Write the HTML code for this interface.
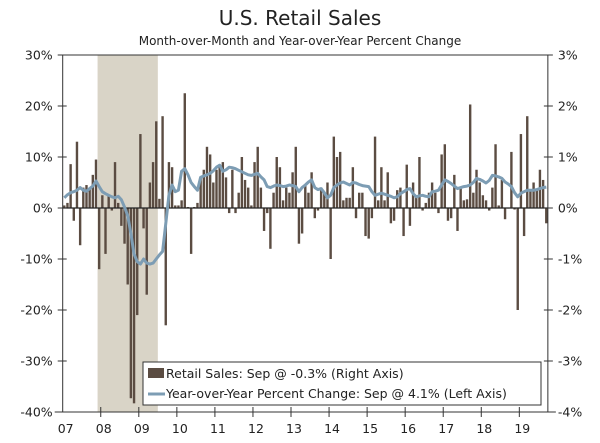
<!DOCTYPE html>
<html><head><meta charset="utf-8">
<style>
html,body{margin:0;padding:0;background:#fff;}
svg{display:block;font-family:"DejaVu Sans","Liberation Sans",sans-serif;}
</style></head>
<body>
<svg id="chart" width="600" height="443" viewBox="0 0 600 443" xmlns="http://www.w3.org/2000/svg">
<text x="300" y="25" text-anchor="middle" font-size="20" fill="#222">U.S. Retail Sales</text>
<text x="300" y="45" text-anchor="middle" font-size="12" fill="#222">Month-over-Month and Year-over-Year Percent Change</text>
<g id="plot"></g>
</svg>
<script>
const startYear = 2007;
const recessionStart = 11; // month index Dec 2007
const recessionEnd = 30;   // end of Jun 2009 (exclusive)
const leftTicks = ["30%","20%","10%","0%","-10%","-20%","-30%","-40%"];
const leftTickValues = [30,20,10,0,-10,-20,-30,-40];
const rightTicks = ["3%","2%","1%","0%","-1%","-2%","-3%","-4%"];
const yearLabels = ["07","08","09","10","11","12","13","14","15","16","17","18","19"];
const retailMoM = [
0.05,0.1,0.86,-0.25,1.3,-0.73,0.4,0.45,0.4,0.65,0.95,-1.2,
0.25,-0.9,0.25,-0.05,0.9,0.1,-0.35,-0.7,-1.5,-3.73,-3.83,-2.1,
1.45,-0.4,-1.7,0.5,0.9,1.7,0.18,1.8,-2.3,0.9,0.8,0.05,
0.05,0.15,2.25,0.02,-0.9,0.02,0.1,0.6,0.75,1.2,1.05,0.5,
0.75,0.85,0.9,0.6,-0.1,0.75,-0.1,0.3,1.0,0.55,0.4,0.05,
0.9,1.2,0.4,-0.45,-0.1,-0.8,0.3,1.0,0.8,0.15,0.4,0.3,
0.7,1.2,-0.7,-0.5,0.45,0.3,0.7,-0.2,-0.05,0.4,0.3,0.5,
-1.0,1.4,1.0,1.1,0.15,0.2,0.2,0.8,-0.2,0.3,0.3,-0.55,
-0.6,-0.2,1.4,0.15,0.8,0.15,0.7,-0.3,-0.25,0.35,0.4,-0.55,
0.85,-0.35,0.5,0.25,1.0,-0.05,0.1,0.3,0.5,0.3,-0.1,1.05,
1.25,-0.25,-0.2,0.65,-0.45,0.4,0.15,0.17,2.03,0.3,0.75,0.5,
0.25,0.15,-0.05,0.4,1.25,0.05,0.55,-0.22,0.0,1.1,-0.03,-2.0,
1.45,-0.55,1.8,0.35,0.5,0.35,0.75,0.55,-0.3];
const yoyChange = [
2.0,2.6,3.0,3.2,3.5,4.0,3.5,3.3,3.8,4.3,5.3,4.2,
3.2,2.8,2.5,2.2,2.0,2.3,1.6,0.2,-1.5,-5.0,-9.0,-10.5,
-11.0,-10.0,-10.8,-11.0,-10.8,-10.0,-9.2,-8.5,-3.0,2.5,4.5,3.2,
3.5,7.2,7.7,6.5,5.0,4.2,3.5,6.0,6.3,6.5,6.8,7.3,
8.0,8.4,7.2,7.5,8.0,7.9,7.7,7.4,7.1,6.8,6.5,6.4,
6.6,6.8,6.1,5.5,4.2,4.0,4.3,4.5,4.4,4.2,4.3,4.5,
4.4,4.2,3.2,4.0,4.5,5.1,5.5,4.0,3.6,3.8,3.0,2.0,
2.5,4.0,4.5,4.9,5.1,4.8,4.5,5.0,4.9,4.6,4.4,4.3,
4.2,3.2,2.5,2.7,2.9,2.7,2.5,2.3,2.0,2.2,2.8,3.2,
3.6,3.8,2.8,2.2,2.4,2.5,2.3,2.2,3.2,3.3,3.5,4.5,
5.5,5.2,4.8,4.3,3.8,4.0,4.2,4.3,4.5,5.0,5.8,5.6,
5.3,4.9,5.4,6.4,6.3,6.1,5.8,5.1,4.7,4.2,3.0,2.2,
2.9,3.2,3.5,3.5,3.5,3.6,3.8,4.0,4.1];

const NS = "http://www.w3.org/2000/svg";
const plot = document.getElementById("plot");
const X0 = 62.7, MW = 3.171, NM = 153;
const TOP = 55, BOT = 412;
const X1 = X0 + NM * MW;
const yL = v => TOP + (30 - v) / 70 * (BOT - TOP);
const yR = v => yL(v * 10);
const xM = i => X0 + (i + 0.5) * MW;
const xEdge = i => X0 + i * MW;
function mk(tag, attrs, parent) {
  const e = document.createElementNS(NS, tag);
  for (const k in attrs) e.setAttribute(k, attrs[k]);
  (parent || plot).appendChild(e);
  return e;
}
// recession shading
let sh = mk("rect", {x: xEdge(recessionStart), y: TOP, width: xEdge(recessionEnd) - xEdge(recessionStart), height: BOT - TOP, fill: "#d9d4c7"});


// bars
retailMoM.forEach((v, i) => {
  const y0 = yR(0), y1 = yR(v);
  const b = mk("rect", {x: xM(i) - 1.2, y: Math.min(y0, y1), width: 2.4, height: Math.max(0.6, Math.abs(y1 - y0)), fill: "#5b4c42"});
  
  
});
// zero line
let z = mk("line", {x1: X0, x2: X1, y1: yL(0), y2: yL(0), stroke: "#222", "stroke-width": 1.2});


// yoy line
const pts = yoyChange.map((v, i) => xM(i).toFixed(1) + "," + yL(v).toFixed(1)).join(" ");
let ln = mk("polyline", {points: pts, fill: "none", stroke: "#7d9db4", "stroke-width": 3, "stroke-linejoin": "round"});


// frame
let fr = mk("path", {d: `M${X0},${BOT} L${X0},${TOP} L${X1},${TOP} L${X1},${BOT}`, fill: "none", stroke: "#333", "stroke-width": 1});


let xa = mk("line", {x1: X0 - 8, x2: X1 + 8, y1: BOT, y2: BOT, stroke: "#333", "stroke-width": 1});


// y ticks
leftTickValues.forEach((v, k) => {
  const y = yL(v);
  mk("line", {x1: X0 - 5, x2: X0 + 4, y1: y, y2: y, stroke: "#333"});
  mk("line", {x1: X1 - 4, x2: X1 + 5, y1: y, y2: y, stroke: "#333"});
  const t1 = mk("text", {x: X0 - 10, y: y + 4.5, "text-anchor": "end", "font-size": 12.5, fill: "#222"});
  t1.textContent = leftTicks[k];
  
  
  const t2 = mk("text", {x: X1 + 10, y: y + 4.5, "text-anchor": "start", "font-size": 12.5, fill: "#222"});
  t2.textContent = rightTicks[k];
  
  
});
// x ticks
yearLabels.forEach((lab, k) => {
  const x = xEdge(k * 12);
  if (k > 0) mk("line", {x1: x, x2: x, y1: BOT - 5, y2: BOT + 5, stroke: "#333"});
  const t = mk("text", {x: x + 3, y: 433, "text-anchor": "middle", "font-size": 12.5, fill: "#222"});
  t.textContent = lab;
  
  
});
// legend
const lg = mk("g", {});


mk("rect", {x: 143, y: 362, width: 398, height: 43, fill: "#fff", stroke: "#333", "stroke-width": 1}, lg);
mk("rect", {x: 148, y: 368, width: 16, height: 10, fill: "#5b4c42"}, lg);
const l1 = mk("text", {x: 166, y: 378, "font-size": 12.5, fill: "#222"}, lg);
l1.textContent = "Retail Sales: Sep @ -0.3% (Right Axis)";


mk("line", {x1: 148, x2: 165, y1: 394, y2: 394, stroke: "#7d9db4", "stroke-width": 3}, lg);
const l2 = mk("text", {x: 166, y: 398, "font-size": 12.5, fill: "#222"}, lg);
l2.textContent = "Year-over-Year Percent Change: Sep @ 4.1% (Left Axis)";


</script>
</body></html>
